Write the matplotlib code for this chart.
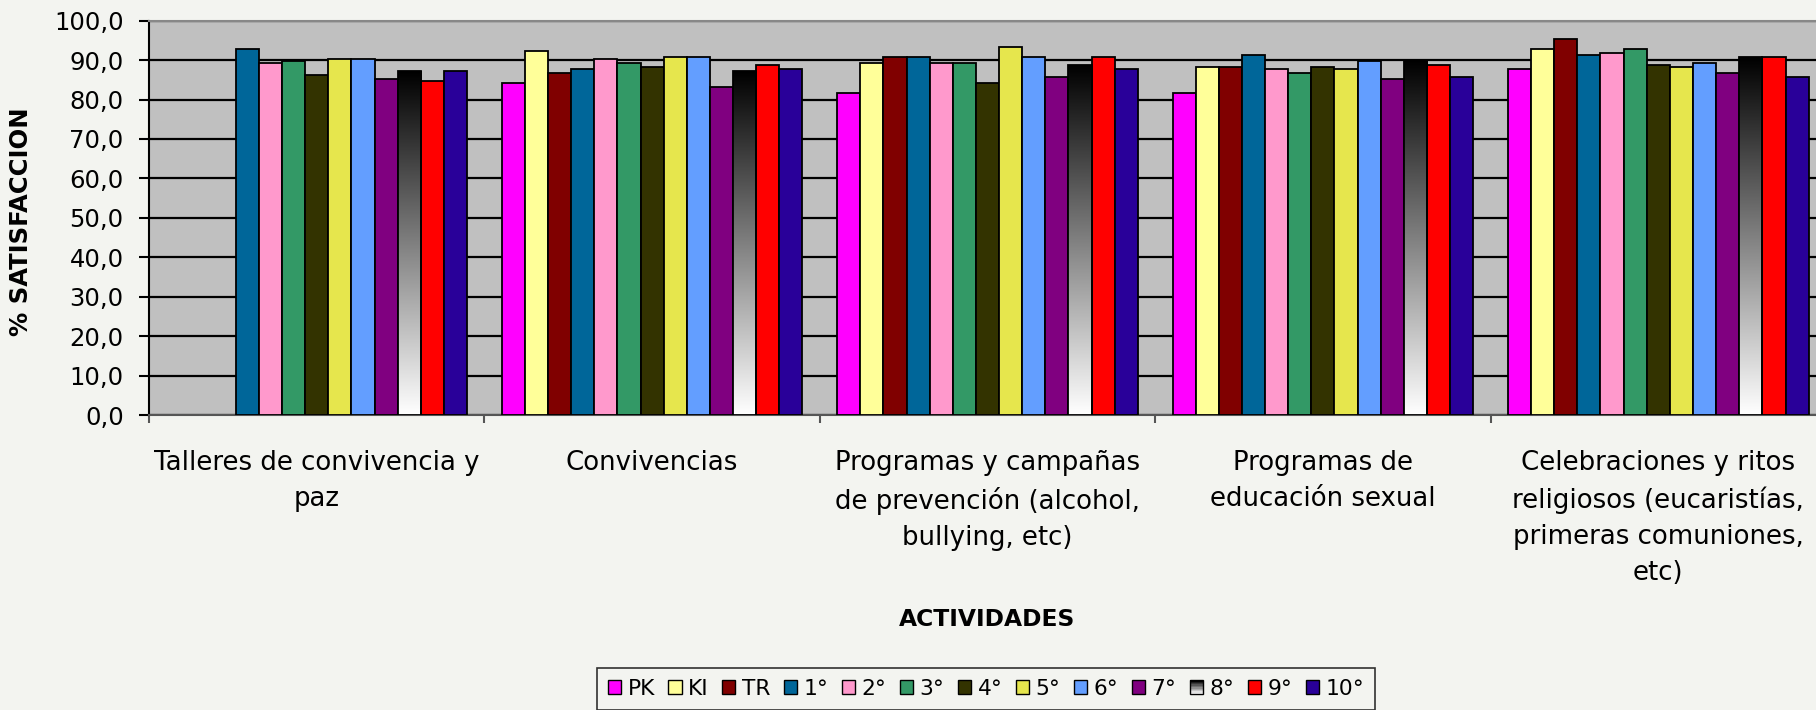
import numpy as np
import matplotlib
matplotlib.use("Agg")
import matplotlib.pyplot as plt
from matplotlib.patches import Rectangle, Patch
from matplotlib.legend_handler import HandlerBase

categories = [
    "Talleres de convivencia y\npaz",
    "Convivencias",
    "Programas y campañas\nde prevención (alcohol,\nbullying, etc)",
    "Programas de\neducación sexual",
    "Celebraciones y ritos\nreligiosos (eucaristías,\nprimeras comuniones,\netc)",
]
series_names = ["PK", "KI", "TR", "1°", "2°", "3°", "4°", "5°", "6°", "7°", "8°", "9°", "10°"]

PK  = [np.nan, 84.1, 81.6, 81.7, 87.7]
KI  = [np.nan, 92.3, 89.3, 88.3, 92.8]
TR  = [np.nan, 86.8, 90.8, 88.3, 95.3]
g1  = [92.8, 87.7, 90.8, 91.3, 91.3]
g2  = [89.3, 90.3, 89.3, 87.7, 91.8]
g3  = [89.8, 89.2, 89.3, 86.7, 92.8]
g4  = [86.2, 88.2, 84.2, 88.3, 88.8]
g5  = [90.2, 90.8, 93.3, 87.7, 88.3]
g6  = [90.2, 90.8, 90.8, 89.8, 89.3]
g7  = [85.2, 83.2, 85.7, 85.2, 86.7]
g8  = [87.2, 87.2, 88.8, 89.8, 90.8]
g9  = [84.8, 88.8, 90.8, 88.8, 90.8]
g10 = [87.2, 87.7, 87.7, 85.7, 85.7]
values = [PK, KI, TR, g1, g2, g3, g4, g5, g6, g7, g8, g9, g10]

colors = ["#FF00FF", "#FFFF99", "#800000", "#006699", "#FF99CC", "#339966",
          "#333300", "#E6E64D", "#639EFF", "#800080", "GRAD", "#FF0000", "#290099"]

ytick_vals = [0, 10, 20, 30, 40, 50, 60, 70, 80, 90, 100]

W, H = 1816, 710
bg = "#F3F4F0"
fig = plt.figure(figsize=(W / 100, H / 100), dpi=100, facecolor=bg)
ax = fig.add_axes([149 / W, (H - 415) / H, (1826 - 149) / W, (415 - 20.7) / H])
ax.set_facecolor("#C0C0C0")

n = len(series_names)
bw = 1 / 14.5
x = np.arange(len(categories))
grad = np.linspace(0, 1, 256).reshape(-1, 1)

for i, (name, vals, col) in enumerate(zip(series_names, values, colors)):
    pos = x + (i - (n - 1) / 2) * bw
    if col == "GRAD":
        bars = ax.bar(pos, vals, width=bw, facecolor="none", edgecolor="black",
                      linewidth=1.3, zorder=4)
        for b, v in zip(bars, vals):
            if np.isnan(v):
                continue
            im = ax.imshow(grad, cmap="gray", vmin=0, vmax=1, aspect="auto",
                           extent=[b.get_x(), b.get_x() + b.get_width(), 0, v],
                           zorder=3, interpolation="bilinear")
            im.set_clip_path(b)
    else:
        ax.bar(pos, vals, width=bw, color=col, edgecolor="black", linewidth=1.3, zorder=3)

ax.set_xlim(-0.5, len(categories) - 0.5)
ax.set_ylim(0, 100)
ax.set_yticks(ytick_vals)
ax.set_yticklabels([f"{v:.1f}".replace(".", ",") for v in ytick_vals], fontsize=17.5)
ax.yaxis.grid(True, color="black", linewidth=1.6, zorder=1)
ax.set_axisbelow(True)
ax.tick_params(axis="y", direction="out", length=7.2, width=1.5, color="black", pad=11)

ax.set_xticks(x)
ax.set_xticklabels(categories, fontsize=18.7, linespacing=1.5)
ax.tick_params(axis="x", length=0, pad=25)
ax.set_xticks(np.arange(len(categories) + 1) - 0.5, minor=True)
ax.tick_params(axis="x", which="minor", direction="out", length=6, width=1.5, color="#555555")

ax.spines["left"].set_color("black")
ax.spines["left"].set_linewidth(1.5)
ax.spines["bottom"].set_color("#555555")
ax.spines["bottom"].set_linewidth(1.5)
ax.spines["top"].set_color("#888888")
ax.spines["top"].set_linewidth(1.5)
ax.spines["right"].set_visible(False)

fig.text(21 / W, 1 - 222 / H, "% SATISFACCION", rotation=90, fontsize=17.5,
         fontweight="bold", ha="center", va="center")
fig.text(987 / W, 1 - 619 / H, "ACTIVIDADES", fontsize=16.8, fontweight="bold",
         ha="center", va="center")


class GradHandler(HandlerBase):
    def create_artists(self, legend, orig_handle, xdescent, ydescent, width, height, fontsize, trans):
        arts = []
        k = 10
        x0, y0 = -xdescent, -ydescent
        for j in range(k):
            g = j / (k - 1)
            r = Rectangle((x0, y0 + height * (1 - (j + 1) / k)), width, height / k,
                          facecolor=(g, g, g), edgecolor="none", transform=trans)
            arts.append(r)
        arts.append(Rectangle((x0, y0), width, height, facecolor="none",
                              edgecolor="black", linewidth=1.0, transform=trans))
        return arts


handles = []
hmap = {}
for name, col in zip(series_names, colors):
    if col == "GRAD":
        p = Patch(facecolor="gray", edgecolor="black", label=name)
        hmap[p] = GradHandler()
    else:
        p = Patch(facecolor=col, edgecolor="black", linewidth=1.0, label=name)
    handles.append(p)

leg = fig.legend(handles=handles, labels=series_names, loc="upper center",
                 bbox_to_anchor=(986 / W, 1 - 668 / H), ncol=13, fontsize=15.7,
                 handlelength=0.62, handleheight=0.62, handletextpad=0.3,
                 columnspacing=0.6, frameon=True, fancybox=False,
                 edgecolor="black", facecolor=bg, borderpad=0.5, borderaxespad=0,
                 handler_map=hmap)
leg.get_frame().set_linewidth(1.2)

fig.savefig("out.png", dpi=100, facecolor=bg)
